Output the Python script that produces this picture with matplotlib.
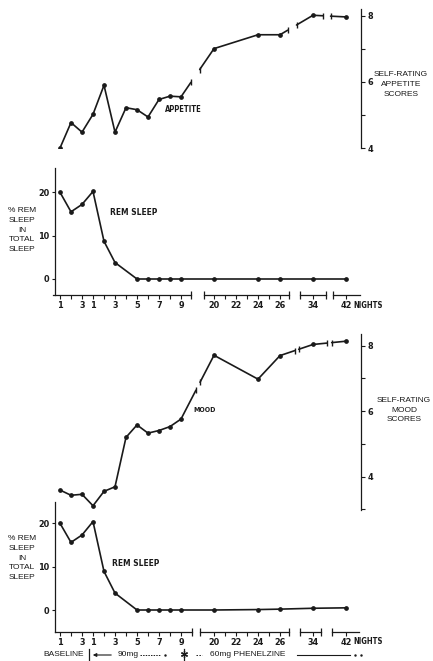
"""Self-rated appetite and mood against % REM sleep over phenelzine treatment.

Two stacked pairs of panels sharing one broken night axis, saved to out.png.
"""

import matplotlib

matplotlib.use("Agg")

import matplotlib.pyplot as plt
from matplotlib.lines import Line2D
from matplotlib.patches import FancyArrowPatch

W, H = 433, 661
INK = "#1a1a1a"

# nights on the broken axis
BASELINE_NIGHTS = [1, 2, 3]
DRUG_NIGHTS = [1, 2, 3, 4, 5, 6, 7, 8, 9]
REM_DRUG_NIGHTS = [1, 2, 3, 5, 6, 7, 8, 9]
LATE_NIGHTS = [20, 24, 26, 34, 42]

APPETITE_BASELINE = [4.0, 4.77, 4.48]
APPETITE_DRUG = [5.02, 5.9, 4.48, 5.22, 5.16, 4.94, 5.47, 5.57, 5.55]
APPETITE_LATE = [7.01, 7.43, 7.43, 8.02, 7.97]

MOOD_BASELINE = [3.59, 3.43, 3.46]
MOOD_DRUG = [3.11, 3.55, 3.69, 5.2, 5.58, 5.33, 5.41, 5.53, 5.76]
MOOD_LATE = [7.71, 6.98, 7.7, 8.04, 8.14]

REM_TOP_BASELINE = [20.0, 15.5, 17.2]
REM_TOP_DRUG = [20.2, 8.7, 3.8, 0, 0, 0, 0, 0]
REM_TOP_LATE = [0, 0, 0, 0, 0]

REM_BOTTOM_BASELINE = [20.0, 15.6, 17.3]
REM_BOTTOM_DRUG = [20.4, 8.9, 3.9, 0, 0, 0, 0, 0]
REM_BOTTOM_LATE = [0, 0.1, 0.2, 0.4, 0.5]

# x tick marks: baseline 1-3, drug nights 1-9, then 20-26, 34, 42
TICK_NIGHTS = ([("baseline", n) for n in BASELINE_NIGHTS]
               + [("drug", n) for n in DRUG_NIGHTS]
               + [("drug", n) for n in range(20, 27)]
               + [("drug", 34), ("drug", 42)])
TICK_LABELS = ["1", "", "3", "1", "", "3", "", "5", "", "7", "", "9",
               "20", "", "22", "", "24", "", "26", "34", "42"]

# where the axis and the score lines are broken (axis slot units)
TOP_AXIS = [(-0.6, 11.9), (13.1, 20.8), (21.8, 24.2), (24.8, 27.3)]
BOTTOM_AXIS = [(-0.45, 11.97), (12.7, 20.8), (21.8, 23.7), (24.7, 27.2)]
APPETITE_BREAKS = [(11.9, 12.7), (20.7, 21.5), (23.9, 24.6)]
MOOD_BREAKS = [(12.36, 12.73), (21.36, 21.7), (24.25, 24.7)]

BOLD = dict(family=["Liberation Sans Narrow", "DejaVu Sans"], weight="bold",
            stretch="condensed", color=INK)
PLAIN = dict(family=["Liberation Sans", "DejaVu Sans"], color=INK)

XLIM = ((55 - 60) / 11, (361 - 60) / 11)


def slot_of(phase, night):
    """Position of a night on the compressed, broken axis."""
    if phase == "baseline":
        return night - 1
    if night <= 9:
        return night + 2
    if night <= 27:
        return night - 6
    if night <= 35:
        return night - 11
    return night - 16


def series(baseline, drug_nights, drug, late):
    xs = [slot_of("baseline", n) for n in BASELINE_NIGHTS]
    xs += [slot_of("drug", n) for n in drug_nights]
    xs += [slot_of("drug", n) for n in LATE_NIGHTS]
    return xs, list(baseline) + list(drug) + list(late)


def px(x, y):
    return x / W, 1 - y / H


def add_panel(fig, top, bottom, left=55, right=361):
    return fig.add_axes([left / W, 1 - bottom / H, (right - left) / W, (bottom - top) / H])


def draw_score(ax, xs, ys, breaks, ylim):
    ax.set_xlim(XLIM)
    ax.set_ylim(ylim)
    ax.patch.set_visible(False)
    for side in ("left", "top", "bottom"):
        ax.spines[side].set_visible(False)
    ax.spines["right"].set_linewidth(0.9)
    ax.spines["right"].set_color(INK)
    ax.set_xticks([])
    ax.yaxis.tick_right()
    ticks = [t for t in range(3, 9) if t >= ylim[0]]
    ax.set_yticks(ticks)
    ax.set_yticklabels([str(t) if t % 2 == 0 else "" for t in ticks], fontsize=6.5, **BOLD)
    ax.tick_params(axis="y", length=3, width=0.8, pad=1.5, color=INK)

    groups = [[]]
    bi = 0
    for x, y in zip(xs, ys):
        if bi < len(breaks) and x > breaks[bi][0]:
            groups.append([])
            bi += 1
        groups[-1].append((x, y))
    style = dict(color=INK, lw=1.2, solid_capstyle="round")
    for g in groups:
        gx, gy = zip(*g)
        ax.plot(gx, gy, marker="o", ms=2.4, **style)
    for (a, b), left, right in zip(breaks, groups[:-1], groups[1:]):
        (x0, y0), (x1, y1) = left[-1], right[0]
        ya = y0 + (y1 - y0) * (a - x0) / (x1 - x0)
        yb = y0 + (y1 - y0) * (b - x0) / (x1 - x0)
        ax.plot([x0, a], [y0, ya], **style)
        ax.plot([b, x1], [yb, y1], **style)
        ax.plot([a, b], [ya, yb], ls="none", marker="|", ms=5, mew=1.0, color=INK)


def draw_rem(ax, xs, ys, ylim, segments):
    ax.set_xlim(XLIM)
    ax.set_ylim(ylim)
    ax.patch.set_visible(False)
    for side in ("right", "top", "bottom"):
        ax.spines[side].set_visible(False)
    ax.spines["left"].set_linewidth(0.9)
    ax.spines["left"].set_color(INK)
    ax.plot(xs, ys, color=INK, lw=1.2, marker="o", ms=2.4)

    ax.set_yticks([0, 10, 20])
    ax.set_yticklabels(["0", "10", "20"], fontsize=6.5, **BOLD)
    ax.tick_params(axis="y", length=2, width=0.8, pad=2, color=INK)
    ax.set_xticks([slot_of(p, n) for p, n in TICK_NIGHTS])
    ax.set_xticklabels(TICK_LABELS, fontsize=6.5, **BOLD)
    ax.tick_params(axis="x", length=3, width=0.8, pad=1.5, color=INK)

    trans = ax.get_xaxis_transform()
    for i, (a, b) in enumerate(segments):
        ax.plot([a, b], [0, 0], color=INK, lw=0.9, transform=trans, clip_on=False)
        ends = []
        if i > 0:
            ends.append(a)
        if i < len(segments) - 1:
            ends.append(b)
        if ends:
            ax.plot(ends, [0] * len(ends), ls="none", marker="|", ms=6, mew=0.9,
                    color=INK, transform=trans, clip_on=False)


def rem_label(fig, y):
    fig.text(*px(22, y), "% REM\nSLEEP\nIN\nTOTAL\nSLEEP", ha="center", va="center",
             fontsize=6, linespacing=1.55, **PLAIN)


def main():
    fig = plt.figure(figsize=(W / 100, H / 100), dpi=100)
    fig.patch.set_facecolor("white")

    # appetite score (upper)
    ax = add_panel(fig, 9, 148)
    xs, ys = series(APPETITE_BASELINE, DRUG_NIGHTS, APPETITE_DRUG, APPETITE_LATE)
    draw_score(ax, xs, ys, APPETITE_BREAKS, (4.0, 8.21))
    fig.text(*px(165, 110), "APPETITE", ha="left", va="center", fontsize=5.5, **BOLD)
    fig.text(*px(401, 84.5), "SELF-RATING\nAPPETITE\nSCORES", ha="center", va="center",
             fontsize=6, linespacing=1.5, **PLAIN)

    # REM sleep (upper)
    ax = add_panel(fig, 168, 295)
    xs, ys = series(REM_TOP_BASELINE, REM_DRUG_NIGHTS, REM_TOP_DRUG, REM_TOP_LATE)
    draw_rem(ax, xs, ys, ((279 - 295) / 4.335, (279 - 168) / 4.335), TOP_AXIS)
    fig.text(*px(110, 212.7), "REM SLEEP", ha="left", va="center", fontsize=6, **BOLD)
    fig.text(*px(353, 305.5), "NIGHTS", ha="left", va="center", fontsize=5.5, **BOLD)
    rem_label(fig, 230)

    # mood score (lower)
    ax = add_panel(fig, 334, 510)
    xs, ys = series(MOOD_BASELINE, DRUG_NIGHTS, MOOD_DRUG, MOOD_LATE)
    draw_score(ax, xs, ys, MOOD_BREAKS, (2.98, 8.36))
    fig.text(*px(193, 410), "MOOD", ha="left", va="center", fontsize=5, **BOLD)
    fig.text(*px(404, 410), "SELF-RATING\nMOOD\nSCORES", ha="center", va="center",
             fontsize=6, linespacing=1.5, **PLAIN)

    # REM sleep (lower)
    ax = add_panel(fig, 502, 631.7)
    xs, ys = series(REM_BOTTOM_BASELINE, REM_DRUG_NIGHTS, REM_BOTTOM_DRUG, REM_BOTTOM_LATE)
    draw_rem(ax, xs, ys, ((610 - 631.7) / 4.335, (610 - 502) / 4.335), BOTTOM_AXIS)
    fig.text(*px(112, 563), "REM SLEEP", ha="left", va="center", fontsize=6, **BOLD)
    fig.text(*px(353, 641.7), "NIGHTS", ha="left", va="center", fontsize=5.5, **BOLD)
    rem_label(fig, 558)

    # treatment legend along the bottom
    ty = 655
    fig.text(*px(43, ty), "BASELINE", ha="left", va="center", fontsize=6, **PLAIN)
    fig.add_artist(Line2D([89 / W, 89 / W], [1 - 649 / H, 1 - 661 / H], color=INK, lw=0.9))
    fig.add_artist(FancyArrowPatch(px(114, ty), px(90, ty), arrowstyle="-|>", mutation_scale=5,
                                   color=INK, lw=0.8, transform=fig.transFigure))
    fig.text(*px(118, ty), "90mg", ha="left", va="center", fontsize=6, **PLAIN)
    fig.add_artist(Line2D([140 / W, 160 / W], [1 - ty / H] * 2, color=INK, lw=0.7,
                          dashes=(1.5, 1.2)))
    fig.add_artist(Line2D([165 / W], [1 - ty / H], color=INK, marker=".", ms=1.5))
    fig.add_artist(Line2D([184 / W, 184 / W], [1 - 649 / H, 1 - 660 / H], color=INK, lw=0.9))
    fig.add_artist(Line2D([184 / W], [1 - 654 / H], color=INK, marker=(6, 2, 0), ms=5,
                          mew=0.9))
    fig.add_artist(Line2D([196 / W, 202 / W], [1 - ty / H] * 2, color=INK, lw=0.7,
                          dashes=(1.5, 1.5)))
    fig.text(*px(210, ty), "60mg PHENELZINE", ha="left", va="center", fontsize=6, **PLAIN)
    fig.add_artist(Line2D([297 / W, 350 / W], [1 - ty / H] * 2, color=INK, lw=0.8))
    fig.add_artist(Line2D([355 / W, 361 / W], [1 - ty / H] * 2, color=INK, ls="none",
                          marker=".", ms=1.5))

    fig.savefig("out.png", dpi=100, facecolor="white")
    plt.close(fig)


if __name__ == "__main__":
    main()
